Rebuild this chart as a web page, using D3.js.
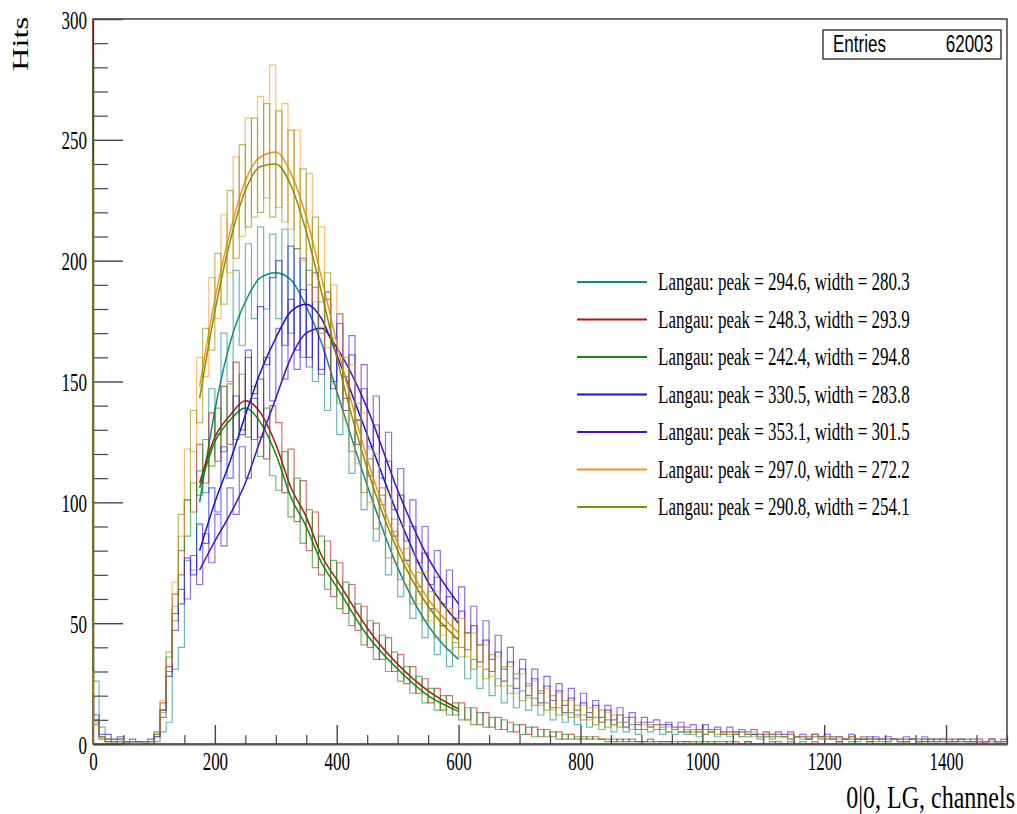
<!DOCTYPE html>
<html><head><meta charset="utf-8">
<script src="https://cdn.jsdelivr.net/npm/d3@7"></script>
<style>body{margin:0;background:#fff;overflow:hidden}svg{display:block}</style>
</head><body>
<script>
// ---------------- DATA ----------------
const legendLabels = [
  "Langau: peak = 294.6, width = 280.3",
  "Langau: peak = 248.3, width = 293.9",
  "Langau: peak = 242.4, width = 294.8",
  "Langau: peak = 330.5, width = 283.8",
  "Langau: peak = 353.1, width = 301.5",
  "Langau: peak = 297.0, width = 272.2",
  "Langau: peak = 290.8, width = 254.1"
];
const seriesColors = ["#0a8a8a", "#b31414", "#108a10", "#1414d9", "#4a0fc4", "#f7941d", "#8c8c00"];
const entriesLabel = "Entries";
const entriesValue = "62003";
const xTitle = "0|0, LG, channels";
const yTitle = "Hits";
const xTicks = [0, 200, 400, 600, 800, 1000, 1200, 1400];
const yTicks = [0, 50, 100, 150, 200, 250, 300];

// counts in channel 0 (pedestal) per series
const pedestal = [35, 400, 285, 20, 15, 30, 240];
// mean hits per channel: bin [1,10) then bins of 10 channels up to 1500
const histTeal = [
26,7,2,1,2,0,1,0,1,0,
1,5,9,31,40,76,72,113,104,147,
128,170,150,196,165,207,176,214,180,211,
176,213,170,205,160,196,150,183,138,168,
128,152,112,134,97,118,84,103,70,88,
61,76,52,63,44,55,37,49,32,42,
40,27,35,23,31,20,27,17,24,15,
22,14,19,12,17,10,15,9,13,8,
12,7,11,6,10,5,9,5,8,4,
6,5,6,4,5,4,5,4,5,3,
4,5,3,4,3,4,3,3,4,2,
3,2,3,3,2,3,2,2,3,2,
2,2,1,2,2,1,2,1,2,1,
1,2,1,1,2,1,1,2,1,1,
1,1,2,1,1,0,1,1,1,1];
const histRed = [
8,2,1,1,0,1,0,1,0,0,
3,17,30,62,70,101,96,124,108,137,
117,148,124,158,130,160,126,151,118,140,
133,104,122,92,109,80,96,70,84,61,
75,54,66,47,57,40,50,35,44,30,
37,25,32,21,27,17,23,14,20,12,
17,10,15,8,13,7,11,6,9,5,
8,4,7,3,6,3,5,2,4,2,
3,2,3,2,2,1,2,1,2,1,
1,2,1,1,1,0,1,1,1,0,
1,0,1,1,0,1,0,1,0,0,
0,1,0,0,1,0,0,0,1,0,
0,0,1,0,0,0,0,1,0,0,
0,0,0,1,0,0,0,0,0,0,
0,0,0,0,0,1,0,0,0,0];
const histGreen = [
9,3,1,0,1,0,1,0,0,1,
5,14,36,51,80,86,108,103,126,115,
139,121,149,126,153,127,148,119,139,111,
105,121,94,110,83,97,73,86,64,76,
56,67,49,58,41,51,35,45,30,38,
26,32,21,28,17,23,14,20,12,17,
10,15,8,13,7,11,6,10,5,8,
4,7,3,6,3,5,2,4,2,3,
2,3,2,2,1,2,1,2,1,1,
1,1,0,1,1,1,0,1,0,1,
0,1,0,0,1,0,0,1,0,0,
0,0,1,0,0,0,1,0,0,0,
0,0,0,0,1,0,0,0,0,0,
0,0,0,0,0,0,1,0,0,0,
0,0,0,0,0,0,0,0,0,0];
const histBlue = [
12,4,4,2,3,1,2,1,1,2,
3,14,28,54,58,77,70,91,83,106,
96,123,110,144,128,163,145,181,157,193,
200,165,206,163,201,160,195,155,187,147,
174,138,161,124,147,111,132,99,117,86,
103,76,90,65,79,56,69,49,61,44,
55,39,49,34,43,30,38,26,34,23,
31,20,27,17,24,15,22,13,19,12,
17,11,16,9,14,8,12,7,11,6,
9,7,8,6,8,6,7,5,6,5,
6,5,6,4,5,4,5,4,4,3,
4,3,4,3,4,3,3,2,4,3,
3,2,3,2,3,2,2,3,2,2,
2,2,1,2,2,1,2,2,1,2,
1,2,1,1,2,1,1,2,1,1];
const histPurple = [
10,3,2,1,2,1,1,1,0,1,
4,11,32,47,64,60,78,66,87,75,
95,82,106,95,123,110,143,127,160,142,
172,151,184,155,188,156,189,153,184,150,
178,143,169,134,157,123,144,110,129,97,
114,84,101,75,90,66,80,58,72,52,
65,46,57,41,51,35,45,31,40,27,
35,24,31,21,28,18,25,16,23,14,
21,13,18,11,16,10,15,9,13,8,
11,9,10,8,9,7,9,7,8,6,
8,6,7,5,7,5,6,5,6,4,
5,4,5,4,5,3,4,3,4,3,
4,3,3,2,4,2,3,2,3,2,
3,2,2,3,2,2,3,1,2,2,
2,1,2,2,1,2,1,2,1,2];
const histOrange = [
8,3,2,1,2,1,1,0,1,1,
5,18,33,67,86,122,121,160,152,193,
176,219,195,243,210,259,218,268,226,281,
222,265,213,254,200,236,183,214,164,190,
178,134,157,116,137,100,120,87,104,75,
91,66,79,58,71,51,63,45,56,40,
52,36,46,32,41,28,36,24,32,21,
29,19,26,16,23,14,21,12,18,11,
16,10,15,9,13,8,12,7,11,6,
8,7,8,6,7,6,7,5,6,5,
6,5,6,4,5,4,5,4,5,3,
4,3,4,3,4,3,3,3,4,2,
3,2,3,2,3,2,3,2,2,2,
2,2,1,2,2,1,2,2,1,2,
1,2,1,1,2,1,1,2,1,1];
const histOlive = [
10,3,1,2,1,1,0,1,1,0,
4,13,38,57,95,101,138,133,172,163,
203,182,229,201,248,214,259,220,265,218,
262,216,254,205,238,190,218,170,195,149,
141,160,121,141,104,122,89,106,77,93,
68,81,58,71,51,63,44,57,39,51,
36,46,31,41,27,37,24,32,21,29,
18,25,16,22,14,20,12,18,11,16,
10,15,8,14,7,12,7,11,6,9,
6,8,6,7,5,6,5,6,4,6,
4,6,4,5,4,5,3,4,3,4,
3,4,3,3,2,3,3,2,3,3,
2,3,2,2,3,2,2,2,1,2,
1,2,2,1,2,1,2,1,2,1,
1,1,2,1,1,1,1,0,1,1];

// Langau fit curves sampled at these channels
const fitChannels = [175,200,225,250,275,300,325,350,375,400,450,500,550,600];
const fitTeal   = [100,138,166,183,193,195,192,181,166,146,107,73,49,35];
const fitRed    = [108,127,136,142,137,124,106,94,78,68,48,33,22,14.5];
const fitGreen  = [106,125,134,139,133,120,102,90,75,65,45,31,20,13.5];
const fitBlue   = [80,100,117,136,154,168,179,182,176,161,128,95,67,50];
const fitPurple = [72,84,95,108,126,143,160,170,172,164,139,105,77,58];
const fitOrange = [148,184,212,233,243,245,236,218,193,166,118,83,60,46];
const fitOlive  = [143,179,208,229,239,240,231,212,187,160,114,80,57,43];

const hists = [histTeal, histRed, histGreen, histBlue, histPurple, histOrange, histOlive];
const fits = [fitTeal, fitRed, fitGreen, fitBlue, fitPurple, fitOrange, fitOlive];

// ---------------- LAYOUT ----------------
const W = 1017, H = 814;
const L = 93, R = 1007, T = 19, B = 744;
const SY = 1.45;
const serif = "'Liberation Serif','Times New Roman',serif";
const sans = "'Liberation Sans',Arial,sans-serif";

const svg = d3.select("body").append("svg").attr("width", W).attr("height", H);
const x = d3.scaleLinear().domain([0, 1500]).range([L, R]);
const y = d3.scaleLinear().domain([0, 300]).range([B, T]);

svg.append("defs").append("clipPath").attr("id", "plotclip")
  .append("rect").attr("x", L - 1.5).attr("y", T).attr("width", R - L + 1.5).attr("height", B - T);

// frame
svg.append("rect").attr("x", L).attr("y", T).attr("width", R - L).attr("height", B - T)
  .attr("fill", "none").attr("stroke", "#111").attr("stroke-width", 1.2);

// axes
const xMinor = d3.range(0, 1501, 50).filter(v => v % 200 !== 0);
const yMinor = d3.range(0, 301, 10).filter(v => v % 50 !== 0);

const gx = svg.append("g").attr("transform", `translate(0,${B})`)
  .call(d3.axisBottom(x).tickValues(xTicks).tickSizeInner(-19).tickSizeOuter(0).tickFormat(d3.format("d")));
gx.select(".domain").attr("stroke", "#555").attr("stroke-width", 2);
gx.selectAll(".tick line").attr("stroke", "#444").attr("stroke-width", 1.4);
gx.selectAll(".tick text").attr("y", 0).attr("dy", null)
  .attr("transform", `translate(0,26) scale(1,${SY})`)
  .style("font-family", serif).style("font-size", "17px").attr("fill", "#000");
const gxm = svg.append("g").attr("transform", `translate(0,${B})`)
  .call(d3.axisBottom(x).tickValues(xMinor).tickSizeInner(-9).tickSizeOuter(0).tickFormat(""));
gxm.select(".domain").remove();
gxm.selectAll(".tick line").attr("stroke", "#444").attr("stroke-width", 1.2);

const gy = svg.append("g").attr("transform", `translate(${L},0)`)
  .call(d3.axisLeft(y).tickValues(yTicks).tickSizeInner(-30).tickSizeOuter(0).tickFormat(d3.format("d")));
gy.select(".domain").attr("stroke", "#111").attr("stroke-width", 1);
gy.selectAll(".tick line").attr("stroke", "#444").attr("stroke-width", 1.4);
gy.selectAll(".tick text").attr("x", 0).attr("dy", null)
  .attr("transform", `translate(-6,9) scale(1,${SY})`)
  .style("font-family", serif).style("font-size", "17px").attr("fill", "#000");
const gym = svg.append("g").attr("transform", `translate(${L},0)`)
  .call(d3.axisLeft(y).tickValues(yMinor).tickSizeInner(-15).tickSizeOuter(0).tickFormat(""));
gym.select(".domain").remove();
gym.selectAll(".tick line").attr("stroke", "#444").attr("stroke-width", 1.2);

// histograms + fits
const edges = [0, 1].concat(d3.range(10, 1501, 10));
const plot = svg.append("g").attr("clip-path", "url(#plotclip)");
const stepLine = d3.line().x(d => x(d[0])).y(d => y(d[1])).curve(d3.curveStepAfter);
const fitLine = d3.line().x(d => x(d[0])).y(d => y(d[1])).curve(d3.curveMonotoneX);

hists.forEach((h, i) => {
  const vals = [pedestal[i]].concat(h);
  const pts = [[0, 0]].concat(vals.map((v, k) => [edges[k], v]));
  pts.push([1500, vals[vals.length - 1]]);
  pts.push([1500, 0]);
  plot.append("path").attr("d", stepLine(pts))
    .attr("fill", "none").attr("stroke", seriesColors[i])
    .attr("stroke-opacity", 0.6).attr("stroke-width", 1.2);
  plot.append("path").attr("d", fitLine(fitChannels.map((c, k) => [c, fits[i][k]])))
    .attr("fill", "none").attr("stroke", seriesColors[i]).attr("stroke-width", 1.5);
});

// titles
svg.append("text").attr("transform", `translate(28,17) rotate(-90) scale(1.35,1)`)
  .attr("text-anchor", "end").style("font-family", serif).style("font-size", "24px")
  .text(yTitle);
svg.append("text").attr("transform", `translate(1015,808) scale(1,1.35)`)
  .attr("text-anchor", "end").style("font-family", serif).style("font-size", "24px")
  .text(xTitle);

// stats box
svg.append("rect").attr("x", 823).attr("y", 30).attr("width", 178).attr("height", 29)
  .attr("fill", "#fff").attr("stroke", "#111").attr("stroke-width", 1.2);
svg.append("text").attr("transform", `translate(833,52) scale(1,1.4)`)
  .style("font-family", sans).style("font-size", "17px").text(entriesLabel);
svg.append("text").attr("transform", `translate(993,52) scale(1,1.4)`).attr("text-anchor", "end")
  .style("font-family", sans).style("font-size", "17px").text(entriesValue);

// legend
const legY0 = 282, legDY = 37.5;
legendLabels.forEach((lab, i) => {
  const ly = legY0 + i * legDY;
  svg.append("line").attr("x1", 577).attr("x2", 647).attr("y1", ly).attr("y2", ly)
    .attr("stroke", seriesColors[i]).attr("stroke-width", 2);
  svg.append("text").attr("transform", `translate(658,${ly + 8}) scale(1,${SY})`)
    .style("font-family", serif).style("font-size", "17px").text(lab);
});
</script>
</body></html>
